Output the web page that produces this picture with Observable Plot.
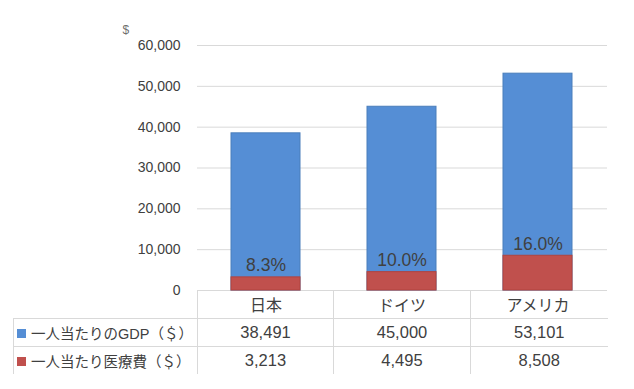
<!DOCTYPE html>
<html>
<head>
<meta charset="utf-8">
<script src="https://cdn.jsdelivr.net/npm/d3@7"></script>
<script src="https://cdn.jsdelivr.net/npm/@observablehq/plot@0.6"></script>
<style>
  html, body { margin: 0; padding: 0; background: #fff; }
  #wrap { position: relative; width: 634px; height: 389px; overflow: hidden;
    font-family: "Liberation Sans", Arial, "Noto Sans CJK JP", sans-serif; color: #404040; }
  #chart { position: absolute; left: 0; top: 0; }
  #tbl { position: absolute; left: 13px; top: 290px; border-collapse: collapse; table-layout: fixed; }
  #tbl td { padding: 0; border: 0 solid #d9d9d9; text-align: center; vertical-align: middle; white-space: nowrap; }
  #tbl tr.head td { height: 28px; }
  #tbl tr.row td { height: 27px; border-top-width: 1px; font-size: 16.5px; }
  #tbl td.val { border-left-width: 1px; }
  #tbl tr.row td.name { border-left-width: 1px; text-align: left; font-size: 14.5px; padding-left: 3px; }
  .sw { display: inline-block; width: 9px; height: 9px; margin-right: 5px; vertical-align: 1px; }
</style>
</head>
<body>
<div id="wrap">
  <div id="chart"></div>
  <table id="tbl"></table>
</div>
<script>
const categories = ["日本", "ドイツ", "アメリカ"];
const gdp = [38491, 45000, 53101];
const medical = [3213, 4495, 8508];
const pctLabels = ["8.3%", "10.0%", "16.0%"];
const seriesNames = ["一人当たりのGDP（＄）", "一人当たり医療費（＄）"];
const seriesColors = ["#558ed5", "#c0504d"];
const yTicks = [0, 10000, 20000, 30000, 40000, 50000, 60000];
const unitLabel = "$";

const data = categories.map((c, i) => ({cat: c, gdp: gdp[i], med: medical[i], pct: pctLabels[i]}));
const fmt = d3.format(",");
const font = '"Liberation Sans", Arial, "Noto Sans CJK JP", sans-serif';

const chart = Plot.plot({
  width: 634,
  height: 319,
  marginTop: 45,
  marginBottom: 29,
  marginLeft: 197,
  marginRight: 27,
  style: {fontFamily: font, fontSize: "14px", color: "#404040", background: "transparent", overflow: "visible"},
  x: {domain: categories, paddingInner: 0.49, paddingOuter: 0.245, label: null},
  y: {domain: [0, 60000], label: null},
  marks: [
    Plot.gridY(yTicks, {stroke: "#d9d9d9", strokeOpacity: 1}),
    Plot.axisY(yTicks, {tickSize: 0, tickPadding: 17, tickFormat: d => fmt(d), fontSize: 14, label: null, fill: "#404040"}),
    Plot.axisX({tickSize: 0, tickPadding: 9, fontSize: 16, label: null, fill: "#404040"}),
    Plot.barY(data, {x: "cat", y: "gdp", fill: seriesColors[0], stroke: "#4a7ebb", strokeWidth: 1}),
    Plot.barY(data, {x: "cat", y: "med", fill: seriesColors[1], stroke: "#b0433f", strokeWidth: 1}),
    Plot.text(data, {x: "cat", y: "med", text: "pct", lineAnchor: "bottom", dy: -6, fontSize: 17.5, fill: "#404040"}),
    Plot.text([unitLabel], {frameAnchor: "top-left", textAnchor: "start", lineAnchor: "middle", dx: -75, dy: -15, fontSize: 12, fill: "#6f6f6f"})
  ]
});
document.getElementById("chart").appendChild(chart);

// data table below the chart
const tbl = document.getElementById("tbl");
const colg = document.createElement("colgroup");
[184, 136, 137, 137].forEach(w => { const c = document.createElement("col"); c.style.width = w + "px"; colg.appendChild(c); });
tbl.appendChild(colg);
const head = document.createElement("tr");
head.className = "head";
head.appendChild(document.createElement("td"));
categories.forEach(() => { const td = document.createElement("td"); td.className = "val"; head.appendChild(td); });
tbl.appendChild(head);
[gdp, medical].forEach((vals, si) => {
  const tr = document.createElement("tr");
  tr.className = "row";
  const name = document.createElement("td");
  name.className = "name";
  const sw = document.createElement("span");
  sw.className = "sw";
  sw.style.background = seriesColors[si];
  name.appendChild(sw);
  name.appendChild(document.createTextNode(seriesNames[si]));
  tr.appendChild(name);
  vals.forEach(v => { const td = document.createElement("td"); td.className = "val"; td.textContent = fmt(v); tr.appendChild(td); });
  tbl.appendChild(tr);
});
</script>
</body>
</html>
